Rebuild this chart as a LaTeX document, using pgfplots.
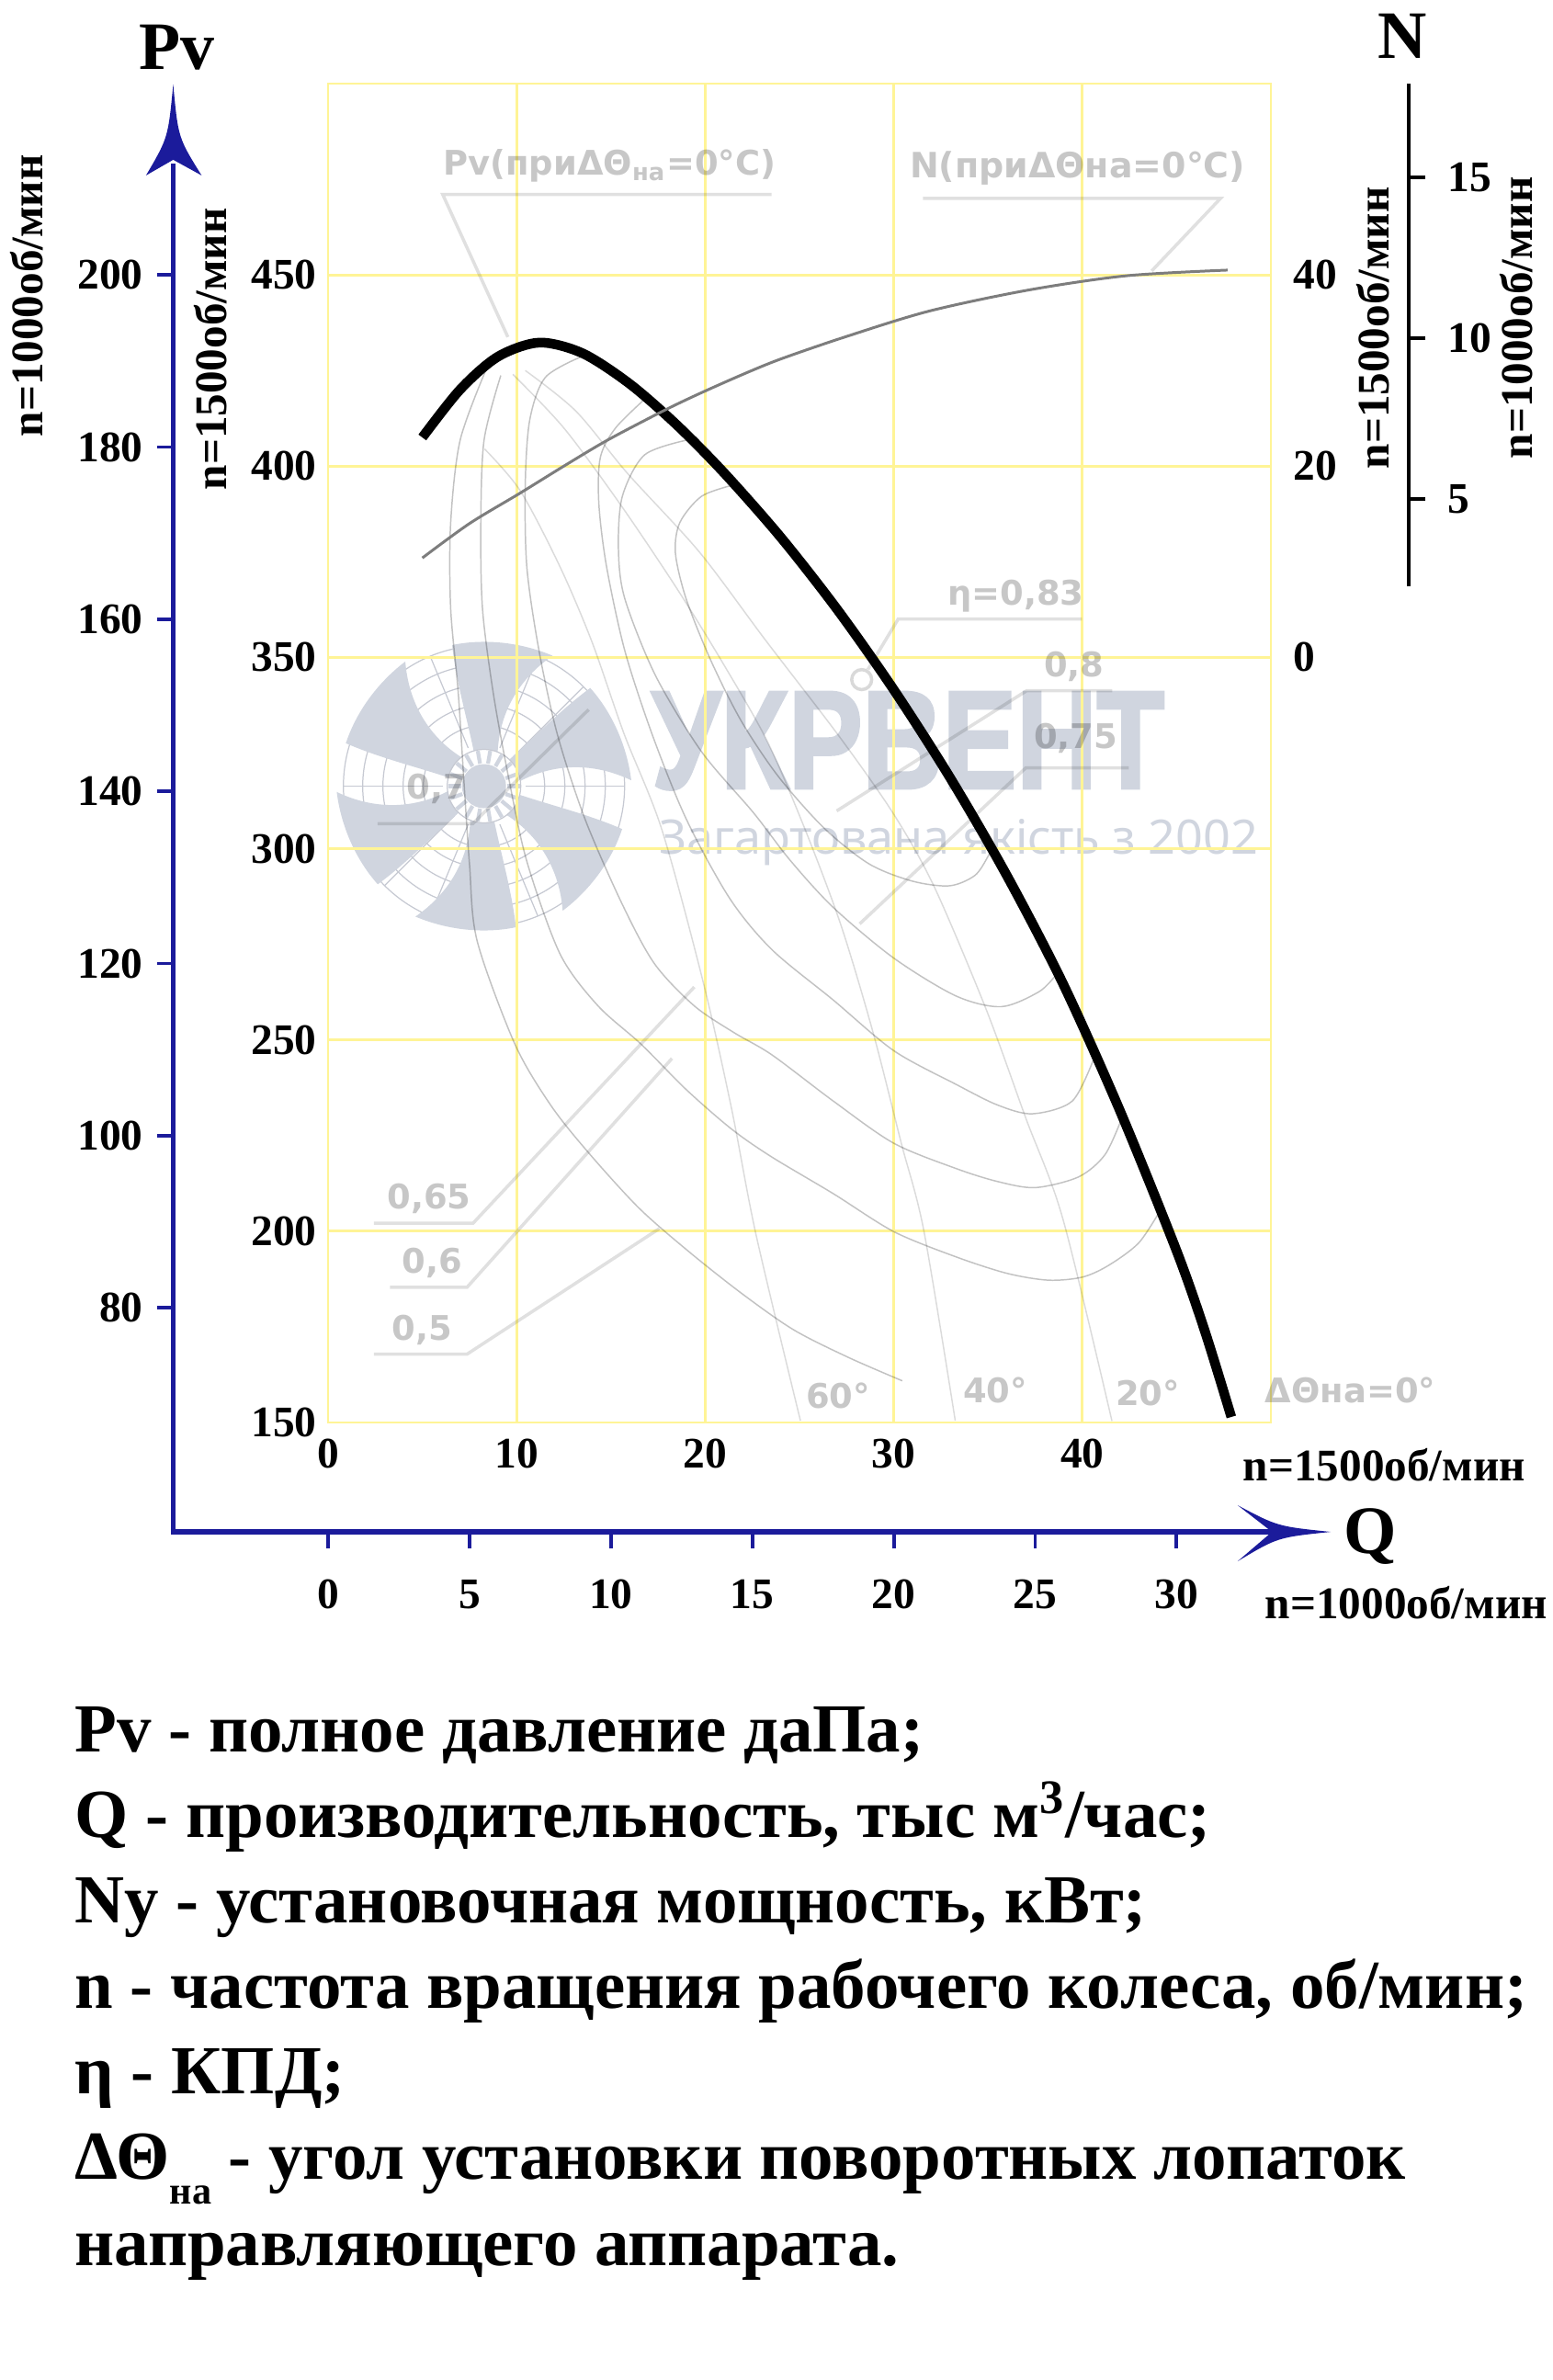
\documentclass[border=0pt]{standalone}
\usepackage{fontspec}
\setmainfont{Liberation Serif}
\newfontfamily\dvs{DejaVu Sans}
\newfontfamily\heavy[BoldFeatures={FakeBold=2.5}]{Liberation Sans}
\newfontfamily\noto{Noto Sans}
\usepackage{pgfplots}
\pgfplotsset{compat=1.18}
\usepackage{graphicx}
\definecolor{gridy}{RGB}{255,244,150}
\definecolor{axblue}{RGB}{27,27,155}
\definecolor{logoc}{RGB}{208,213,223}
\definecolor{logol}{RGB}{198,201,210}
\definecolor{ncurve}{RGB}{125,125,125}
\newcommand{\fb}[1]{\fontsize{#1}{#1}\selectfont\bfseries}
\newlength\wmw
\newcommand{\fitw}[2]{\settowidth{\wmw}{#2}\pgfmathsetmacro\wmsc{#1/\wmw}\scalebox{\wmsc}[1]{#2}}
\tikzset{
 glab/.style={anchor=base west, inner sep=0pt, text=black, text opacity=0.22, font=\dvs\bfseries\fontsize{10.5}{10.5}\selectfont},
 lead/.style={draw=black, draw opacity=0.12, line width=1pt},
 blk/.style={inner sep=0pt},
}
\pgfplotsset{
 cont/.style={draw=black, draw opacity=0.24, line width=0.42pt, smooth, mark=none},
 angl/.style={draw=black, draw opacity=0.14, line width=0.42pt, smooth, mark=none},
}
\begin{document}
\begin{tikzpicture}
\useasboundingbox (0,0) rectangle (16.89cm,-25.90cm);
\begin{scope}[x=0.01cm,y=-0.01cm]
 \begin{scope}[shift={(527,856)},yscale=-1]
  \foreach \r in {1.53,1.32,1.10,0.88,0.66} \draw[logol,line width=0.35pt] (0,0) circle[radius=\r cm];
  \foreach \a in {0,22.5,...,337.5} \draw[logol,line width=0.35pt] (\a:45) -- (\a:153);
  \foreach \a in {35,95,155,215,275,335}
   \fill[logoc,rotate=\a] (32,-12) .. controls (80,-8) and (120,-28) .. (148,-62) .. controls (160,-25) and (160,15) .. (150,48) .. controls (110,40) and (70,24) .. (32,13) -- cycle;
  \fill[white] (0,0) circle[radius=0.40cm];
  \draw[logol,line width=0.35pt] (0,0) circle[radius=0.40cm];
  \foreach \a in {0,20,...,340} \draw[logoc,line width=1.2pt] (\a:25) -- (\a:39);
  \fill[logoc] (0,0) circle[radius=0.24cm];
 \end{scope}
 \node[anchor=base west, inner sep=0pt, text=logoc] at (709,858) {\fitw{5.58cm}{\heavy\bfseries\fontsize{43}{43}\selectfont УКРВЕНТ}};
 \node[anchor=base west, inner sep=0pt, text=logoc] at (717,930) {\fitw{6.52cm}{\noto\bfseries\fontsize{14.7}{14.7}\selectfont Загартована якість з 2002}};
\end{scope}

% inner axis: Pv at n=1500
\begin{axis}[
  at={(3.57cm,-15.48cm)}, anchor=south west,
  scale only axis, width=10.26cm, height=14.57cm,
  xmin=0,xmax=50,ymin=150,ymax=500,
  xtick={0,10,...,50}, ytick={150,200,...,500},
  xticklabels={0,10,20,30,40,{}},
  yticklabels={150,200,250,300,350,400,450,{}},
  grid=major,
  major grid style={gridy, line width=0.8pt},
  axis line style={gridy, line width=0.8pt},
  major tick length=0pt, tick style={draw=none},
  ticklabel style={font=\fb{13.5}},
  xticklabel style={yshift=-0.06cm},
]
% blade angle lines
\addplot[angl] coordinates {(8.3,404.5) (10.2,393.5) (12.3,373.7) (14.0,354) (15.7,330) (17.7,305) (19.9,265) (21.4,232) (22.7,199) (25.05,150.5)};
\addplot[angl] coordinates {(9.8,424) (12.5,410) (15.5,390) (18.5,368) (21.0,348) (23.3,328) (25.3,305) (27.2,280) (28.9,252) (30.4,223) (31.6,200) (33.26,150.5)};
\addplot[angl] coordinates {(10.46,425) (13.14,414.4) (15.9,398) (19.7,377.5) (23.2,354.5) (27.1,329.4) (30.0,309) (32.15,290) (34.9,258) (37.0,229.6) (38.97,203.2) (41.57,150.4)};
% efficiency contours
\addplot[cont] coordinates {(8.4,425.5) (7.0,406.7) (6.5,385) (6.5,363) (6.9,341) (7.2,318) (7.5,296) (7.9,276) (9.9,249) (11.8,233) (13.8,220.6) (16.5,206) (19.2,194.4) (22,183.5) (24.7,174.2) (27.6,167) (30.45,160.9)};
\addplot[cont] coordinates {(9.16,423.7) (8.27,406.7) (8.1,384.7) (8.19,362.7) (8.76,340.7) (9.57,318.7) (10.54,296.7) (12.3,272.5) (14.3,259) (16.6,248.9) (19.0,237) (21.4,226.7) (23.5,219.5) (26.8,209.8) (30.0,199.9) (33.3,193.3) (36.0,189) (38.2,187.2) (40.0,188) (41.4,191.1) (43.0,197) (44.2,206)};
\addplot[cont] coordinates {(13.47,428.7) (11.52,423.2) (10.7,412.2) (10.46,395.7) (10.54,373.7) (11.19,351.7) (12.17,329.7) (13.63,307.7) (15.58,285.7) (17.3,270) (19.4,259) (21.5,252) (23.54,246.1) (26.8,234) (30.0,223) (33.3,216.4) (35.5,213) (37.5,211.4) (39.8,214.2) (41.2,220) (42.1,229.6)};
\addplot[cont] coordinates {(16.9,418) (15.25,410) (14.44,402.3) (14.36,390.2) (14.77,373.7) (15.74,351.7) (17.2,329.7) (19.0,307.7) (21.3,287) (23.54,273.6) (26.8,260.4) (30.0,247.2) (33.3,238.4) (35.5,233) (37.35,230.7) (39.46,234) (40.6,245)};
\addplot[cont] coordinates {(19.2,407) (16.8,403) (15.6,392) (15.4,378) (15.74,365.3) (17.36,345.3) (19.8,325.4) (22.56,309.4) (24.5,297) (26.8,284.6) (30.0,271.4) (33.3,261.5) (35.7,258.7) (37.7,262.6) (38.6,267)};
\addplot[cont] coordinates {(21.43,395) (19.8,392.1) (18.66,385.3) (18.42,377.3) (18.99,365.3) (20.29,349.3) (21.91,333.4) (23.86,319) (26.3,305.4) (28.7,296) (31.0,291.5) (32.96,290.3) (34.3,293) (35.0,298) (35.3,301.5)};
% max efficiency point
\addplot[only marks, mark=o, mark size=3.1pt, mark options={draw=black, draw opacity=0.15, line width=1pt}] coordinates {(28.3,344.2)};
% total pressure curve, dTheta=0
\addplot[black, line width=3pt, smooth, line cap=butt] coordinates {(5.0,407.5) (7.0,420) (9.0,428.6) (11.2,432.3) (13.5,429.5) (16.0,421.5) (18.5,410.75) (21,398.25) (24,381.45) (27,362.55) (30,341.55) (33,318.45) (36,292.95) (39,264.45) (42,231.45) (45,194.85) (46.5,173.85) (47.9,151.45)};
\end{axis}

% N at n=1500 (same box)
\begin{axis}[
  at={(3.57cm,-15.48cm)}, anchor=south west,
  scale only axis, width=10.26cm, height=14.57cm,
  xmin=0,xmax=50,ymin=-80,ymax=60,
  hide x axis, axis y line*=right, y axis line style={draw=none},
  ytick={0,20,40}, yticklabels={0,20,40},
  major tick length=0pt, tick style={draw=none},
  yticklabel style={font=\fb{13.5}, xshift=0.12cm},
]
\addplot[ncurve, line width=0.85pt, smooth] coordinates {(5.0,10.4) (7.5,14.0) (10.2,17.2) (12.5,20.0) (14.8,22.7) (17.7,25.7) (19.6,27.5) (22.0,29.6) (24.0,31.2) (27.4,33.5) (31.85,36.2) (37.1,38.4) (42.3,39.9) (47.7,40.5)};
\end{axis}

% Pv at n=1000 (outer left scale)
\begin{axis}[
  at={(1.886cm,-15.48cm)}, anchor=south west,
  scale only axis, width=1cm, height=14.57cm,
  xmin=0,xmax=1,ymin=66.6667,ymax=222.2222,
  hide x axis, axis y line*=left, y axis line style={draw=none,-},
  ytick={80,100,...,200}, yticklabels={80,100,120,140,160,180,200},
  tick align=outside, major tick length=0.176cm,
  ytick style={axblue, line width=1.1pt},
  yticklabel style={font=\fb{13.5}, xshift=-0.03cm},
]
\end{axis}

% Q at n=1000 (outer bottom scale)
\begin{axis}[
  at={(3.57cm,-16.68cm)}, anchor=south west,
  scale only axis, width=10.26cm, height=1cm,
  xmin=0,xmax=33.33333,ymin=0,ymax=1,
  hide y axis, axis x line*=bottom, x axis line style={draw=none,-},
  xtick={0,5,...,30}, xticklabels={0,5,10,15,20,25,30},
  tick align=outside, major tick length=0.17cm,
  xtick style={axblue, line width=1.1pt},
  xticklabel style={font=\fb{13.5}, yshift=-0.22cm},
]
\end{axis}

% N at n=1000 (outer right scale)
\begin{axis}[
  at={(15.33cm,-6.38cm)}, anchor=south east,
  scale only axis, width=1cm, height=5.47cm,
  xmin=0,xmax=1,ymin=2.2857,ymax=17.914,
  hide x axis, axis y line*=right, y axis line style={black, line width=1.1pt,-},
  ytick={5,10,15}, yticklabels={5,10,15},
  tick align=outside, major tick length=0.18cm,
  ytick style={black, line width=1.1pt},
  yticklabel style={font=\fb{13.5}, xshift=0.12cm},
]
\end{axis}

\begin{scope}[x=0.01cm,y=-0.01cm]
 \draw[axblue,line width=1.6pt] (188.6,1670.8) -- (188.6,178);
 \draw[axblue,line width=1.6pt] (186,1668) -- (1388,1668);
 \fill[axblue] (188.6,92) .. controls (194,150) .. (219.5,191) -- (188.6,174) -- (159,191) .. controls (183,150) .. (188.6,92) -- cycle;
 \fill[axblue] (1449,1668) .. controls (1391,1662) .. (1347.6,1639) -- (1385,1668) -- (1347.6,1700) .. controls (1391,1674) .. (1449,1668) -- cycle;
 % leaders
 \draw[lead] (840,211.7) -- (482,211.7) -- (553,367);
 \draw[lead] (1005,216) -- (1329,216) -- (1254,295);
 \draw[lead] (945,729) -- (978,674) -- (1178,674);
 \draw[lead] (1211,752) -- (1118,752) -- (911,883);
 \draw[lead] (1229,836) -- (1117,836) -- (936,1006);
 \draw[lead] (411,897) -- (514.6,897) -- (641,772.6);
 \draw[lead] (407,1332) -- (515,1332) -- (756,1074.7);
 \draw[lead] (424.6,1401.7) -- (508.5,1401.7) -- (731.7,1152.5);
 \draw[lead] (407,1474.5) -- (508.5,1474.5) -- (718,1337.7);
 % gray labels
 \node[glab] at (482,191) {Pv(приΔΘ\textsubscript{на}=0°C)};
 \node[glab, font=\dvs\bfseries\fontsize{10.8}{10.8}\selectfont] at (990,194) {N(приΔΘна=0°C)};
 \node[glab] at (1031,659) {η=0,83};
 \node[glab] at (1136,737) {0,8};
 \node[glab] at (1125,815) {0,75};
 \node[glab] at (442,870) {0,7};
 \node[glab] at (421,1316) {0,65};
 \node[glab] at (437,1386) {0,6};
 \node[glab] at (426,1459) {0,5};
 \node[glab] at (877,1533) {60°};
 \node[glab] at (1048,1527) {40°};
 \node[glab] at (1214,1530) {20°};
 \node[glab] at (1377,1527) {ΔΘна=0°};
 % black labels
 \node[blk, anchor=base] at (193,75.5) {\fb{21}Pv};
 \node[blk, anchor=base] at (1527,64) {\fb{21}N};
 \node[blk, anchor=base] at (1492,1691) {\fb{21}Q};
 \node[blk, anchor=base west] at (1353,1612) {\fb{14}n=1500об/мин};
 \node[blk, anchor=base west] at (1377,1763) {\fb{14}n=1000об/мин};
 \node[blk, rotate=90] at (29,322) {\fb{14}n=1000об/мин};
 \node[blk, rotate=90] at (229,380) {\fb{14}n=1500об/мин};
 \node[blk, rotate=90] at (1495,357) {\fb{14}n=1500об/мин};
 \node[blk, rotate=90] at (1651,346) {\fb{14}n=1000об/мин};
 % legend
 \node[blk, anchor=base west, font=\fb{21.3}] at (81,1908) {Pv - полное давление даПа;};
 \node[blk, anchor=base west, font=\fb{21.3}] at (81,2001) {Q - производительность, тыс м\textsuperscript{3}/час;};
 \node[blk, anchor=base west, font=\fb{21.3}] at (81,2094) {Ny - установочная мощность, кВт;};
 \node[blk, anchor=base west, font=\fb{21.3}] at (81,2187) {n - частота вращения рабочего колеса, об/мин;};
 \node[blk, anchor=base west, font=\fb{21.3}] at (81,2280) {η - КПД;};
 \node[blk, anchor=base west, font=\fb{21.3}] at (81,2373) {ΔΘ\raisebox{-0.36em}{\fontsize{12}{12}\selectfont на} - угол установки поворотных лопаток};
 \node[blk, anchor=base west, font=\fb{21.3}] at (81,2467) {направляющего аппарата.};
\end{scope}
\end{tikzpicture}
\end{document}
